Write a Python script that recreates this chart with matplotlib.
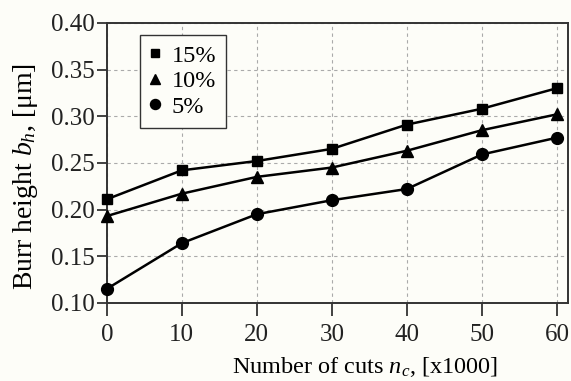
import matplotlib
matplotlib.use('Agg')
import matplotlib.pyplot as plt

cuts = [0, 10, 20, 30, 40, 50, 60]
burr_15 = [0.211, 0.242, 0.252, 0.265, 0.291, 0.308, 0.330]
burr_10 = [0.193, 0.217, 0.235, 0.245, 0.263, 0.285, 0.302]
burr_5 = [0.115, 0.164, 0.195, 0.210, 0.222, 0.259, 0.277]
labels = ['15%', '10%', '5%']

plt.rcParams['font.family'] = ['Liberation Serif', 'DejaVu Serif']
plt.rcParams['mathtext.fontset'] = 'custom'
plt.rcParams['mathtext.rm'] = 'Liberation Serif'
plt.rcParams['mathtext.it'] = 'Liberation Serif:italic'

bg = '#fdfdf8'
fig = plt.figure(figsize=(5.71, 3.81), dpi=100, facecolor=bg)
ax = fig.add_axes([0.187, 0.205, 0.808, 0.735], facecolor=bg)

for ys, m, lab, ms in [(burr_15, 's', labels[0], 7),
                       (burr_10, '^', labels[1], 8.5),
                       (burr_5, 'o', labels[2], 8.5)]:
    ax.plot(cuts, ys, color='black', lw=1.8, marker=m, ms=ms,
            label=lab, clip_on=False, zorder=3)

ax.set_xlim(0, 61.5)
ax.set_ylim(0.10, 0.40)
ax.set_xticks(cuts)
ax.set_yticks([0.10, 0.15, 0.20, 0.25, 0.30, 0.35, 0.40])
ax.set_yticklabels(['0.10', '0.15', '0.20', '0.25', '0.30', '0.35', '0.40'])
ax.tick_params(direction='out', width=1.2, labelsize=18, colors='#222222')
ax.tick_params(axis='x', length=9, pad=6)
ax.tick_params(axis='y', length=7, pad=2)
ax.grid(True, color='#aaaaaa', linestyle=(0, (3, 3)), lw=0.8)
for s in ax.spines.values():
    s.set_linewidth(1.4)
    s.set_color('#333333')

ax.set_xlabel('Number of cuts $n_c$, [x1000]', fontsize=17.5)
ax.xaxis.set_label_coords(0.56, -0.185)
ax.set_ylabel('Burr height $b_h$, [μm]', fontsize=20)
ax.yaxis.set_label_coords(-0.145, 0.45)

leg = ax.legend(loc='upper left', bbox_to_anchor=(0.072, 0.957), borderaxespad=0,
                handlelength=0.45, handletextpad=0.45, labelspacing=0.15,
                fontsize=17.5, fancybox=False, framealpha=1, borderpad=0.4,
                markerscale=0.85)
leg.get_frame().set_edgecolor('#333333')
leg.get_frame().set_facecolor(bg)
for h in leg.legend_handles:
    h.set_linestyle('none')

fig.savefig('out.png', dpi=100, facecolor=bg)
plt.close(fig)
